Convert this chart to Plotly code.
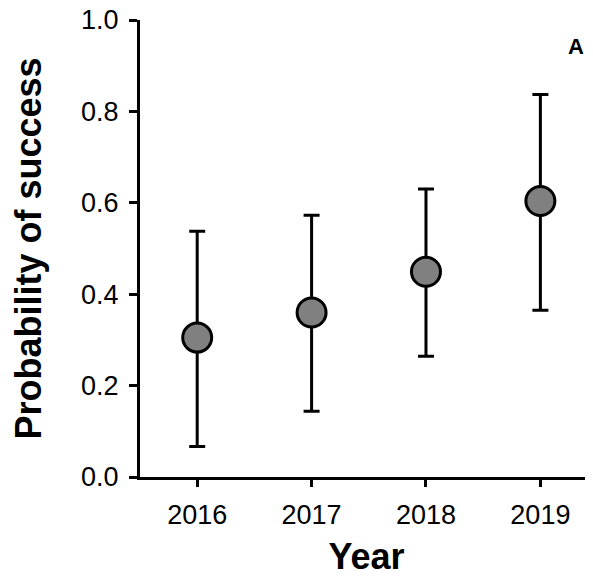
import plotly.graph_objects as go

years = [2016, 2017, 2018, 2019]
prob = [0.305, 0.360, 0.449, 0.604]
upper = [0.538, 0.573, 0.630, 0.837]
lower = [0.067, 0.144, 0.264, 0.365]
y_ticks = [0.0, 0.2, 0.4, 0.6, 0.8, 1.0]
y_tick_labels = ["0.0", "0.2", "0.4", "0.6", "0.8", "1.0"]
panel_label = "A"

err_plus = [u - p for u, p in zip(upper, prob)]
err_minus = [p - l for p, l in zip(prob, lower)]

FONT = "Liberation Sans, Arial, sans-serif"

fig = go.Figure()
fig.add_trace(go.Scatter(
    x=years, y=prob, mode="markers",
    marker=dict(size=29, color="#808080", line=dict(color="black", width=3)),
    error_y=dict(type="data", symmetric=False, array=err_plus, arrayminus=err_minus,
                 color="black", thickness=3, width=8),
    showlegend=False,
))

fig.add_annotation(x=0.9625, y=0.941, xref="paper", yref="paper", text="<b>%s</b>" % panel_label,
                   showarrow=False, xanchor="center", yanchor="middle",
                   font=dict(family=FONT, size=22, color="black"))

# page body has an 8px default margin, so the figure is 8px smaller each way
fig.update_layout(
    width=585, height=574,
    margin=dict(l=132, r=0, t=12, b=105),
    paper_bgcolor="white", plot_bgcolor="white",
    font=dict(family=FONT, color="black"),
    xaxis=dict(
        range=[2015.5, 2019.46], tickmode="array", tickvals=years,
        ticktext=[str(y) for y in years], automargin=False,
        showgrid=False, zeroline=False, showline=True, linecolor="black", linewidth=3,
        ticks="outside", ticklen=7, tickwidth=3, tickcolor="black",
        ticklabelstandoff=5, ticklabeloverflow="allow",
        tickfont=dict(family=FONT, size=27, color="black"),
        title=dict(text="<b>Year</b>", font=dict(family=FONT, size=36, color="black"), standoff=15),
    ),
    yaxis=dict(
        range=[0, 1], tickmode="array", tickvals=y_ticks, ticktext=y_tick_labels,
        automargin=False,
        showgrid=False, zeroline=False, showline=True, linecolor="black", linewidth=3,
        ticks="outside", ticklen=8, tickwidth=3, tickcolor="black",
        ticklabelstandoff=5, ticklabeloverflow="allow",
        tickfont=dict(family=FONT, size=27, color="black"),
        title=dict(text="<b>Probability of success</b>", font=dict(family=FONT, size=36, color="black"), standoff=31),
    ),
)

fig.write_html("out.html")
